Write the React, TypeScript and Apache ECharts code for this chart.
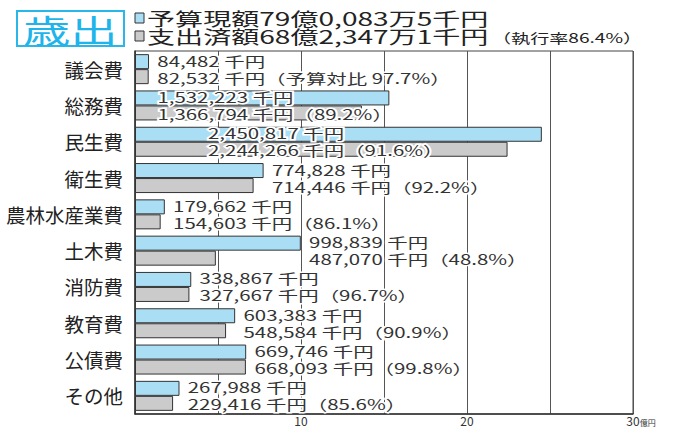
import React, { useEffect, useRef } from "react";
import * as echarts from "echarts";

const categories = ["議会費", "総務費", "民生費", "衛生費", "農林水産業費", "土木費", "消防費", "教育費", "公債費", "その他"];
// 千円
const budget = [84482, 1532223, 2450817, 774828, 179662, 998839, 338867, 603383, 669746, 267988];
const spent = [82532, 1366794, 2244266, 714446, 154603, 487070, 327667, 548584, 668093, 229416];
const rates = ["予算対比 97.7%", "89.2%", "91.6%", "92.2%", "86.1%", "48.8%", "96.7%", "90.9%", "99.8%", "85.6%"];
const xTicks = [0, 5, 10, 15, 20, 25, 30];

const FONT = '"Noto Sans CJK JP", "Noto Sans", sans-serif';
const toOku = (v: number) => v / 100000;
const fmt = (v: number) => v.toLocaleString("en-US");

export default function App() {
  const ref = useRef<HTMLDivElement>(null);
  useEffect(() => {
    if (!ref.current) return;
    const chart = echarts.init(ref.current, null, { renderer: "svg" });
    const budgetOku = budget.map(toOku);
    const spentOku = spent.map(toOku);
    const anchor = (v: number) => (v > 20 ? 4.4 : v > 14 ? 1.35 : v + 0.5);
    const labelData: number[][] = [];
    const labelTexts: string[] = [];
    const labelKinds: number[] = [];
    categories.forEach((_, i) => {
      const a = anchor(budgetOku[i]);
      labelData.push([a, i]);
      labelTexts.push(`${fmt(budget[i])} 千円`);
      labelKinds.push(0);
      labelData.push([a, i]);
      labelTexts.push(`${fmt(spent[i])} 千円（${rates[i]}）`);
      labelKinds.push(1);
    });

    chart.setOption({
      animation: false,
      textStyle: { fontFamily: FONT },
      grid: { left: 135, right: 50, top: 51, bottom: 13, show: true, borderColor: "#444", borderWidth: 1 },
      xAxis: {
        type: "value",
        min: xTicks[0],
        max: xTicks[xTicks.length - 1],
        interval: 5,
        axisLine: { show: true, lineStyle: { color: "#333", width: 1.5 } },
        axisTick: { show: false },
        splitLine: { show: true, lineStyle: { color: "#555", width: 1 } },
        axisLabel: {
          margin: 0,
          color: "#333",
          verticalAlign: "top",
          formatter: (v: number) => {
            if (v === 0 || v % 10 !== 0) return "";
            if (v === 30) return `{h|億円}{n|${v}}{u|億円}`;
            return `{n|${v}}`;
          },
          rich: {
            n: { fontSize: 12, lineHeight: 12, color: "#333", fontFamily: FONT },
            u: { fontSize: 8, lineHeight: 12, color: "#333", fontFamily: FONT, verticalAlign: "bottom" },
            h: { fontSize: 8, lineHeight: 12, color: "transparent", fontFamily: FONT },
          },
        },
      },
      yAxis: {
        type: "category",
        data: categories,
        inverse: true,
        axisTick: { show: false },
        axisLine: { show: true, lineStyle: { color: "#333", width: 1.5 } },
        axisLabel: { fontSize: 19.5, color: "#222", margin: 12, fontFamily: FONT },
      },
      graphic: [
        { type: "rect", shape: { x: 17, y: 11, width: 107, height: 35 }, style: { fill: "#fff", stroke: "#29b6e9", lineWidth: 2 } },
        {
          type: "text", x: 23, y: 29, scaleX: 1.48,
          style: { text: "歳出", fill: "#1fb4ea", font: `32px ${FONT}`, verticalAlign: "middle", textVerticalAlign: "middle" },
        },
        { type: "rect", shape: { x: 135, y: 13, width: 9, height: 10 }, style: { fill: "#a9def5", stroke: "#333", lineWidth: 1 } },
        { type: "rect", shape: { x: 135, y: 31, width: 9, height: 10 }, style: { fill: "#cbcbcb", stroke: "#333", lineWidth: 1 } },
        {
          type: "text", x: 147, y: 18.5, scaleX: 1.56,
          style: { text: "予算現額79億0,083万5千円", fill: "#222", font: `18px ${FONT}`, verticalAlign: "middle", textVerticalAlign: "middle" },
        },
        {
          type: "text", x: 147, y: 36.5, scaleX: 1.56,
          style: { text: "支出済額68億2,347万1千円", fill: "#222", font: `18px ${FONT}`, verticalAlign: "middle", textVerticalAlign: "middle" },
        },
        {
          type: "text", x: 492, y: 37.5, scaleX: 1.47,
          style: { text: "（執行率86.4%）", fill: "#222", font: `13px ${FONT}`, verticalAlign: "middle", textVerticalAlign: "middle" },
        },
      ],
      series: [
        {
          name: "予算現額",
          type: "bar",
          data: budgetOku,
          barWidth: 15,
          barGap: "0%",
          itemStyle: { color: "#a9def5", borderColor: "#333", borderWidth: 1 },
        },
        {
          name: "支出済額",
          type: "bar",
          data: spentOku,
          barWidth: 15,
          barGap: "0%",
          itemStyle: { color: "#cbcbcb", borderColor: "#333", borderWidth: 1 },
        },
        {
          type: "custom",
          data: labelData,
          z: 10,
          renderItem: (params: any, api: any) => {
            const pt = api.coord([api.value(0), api.value(1)]);
            const kind = labelKinds[params.dataIndex];
            return {
              type: "text",
              x: pt[0],
              y: pt[1] + (kind === 0 ? -8.5 : 8.5),
              scaleX: 1.46,
              style: {
                text: labelTexts[params.dataIndex],
                fill: "#333",
                stroke: "#fff",
                lineWidth: 3,
                font: `14px ${FONT}`,
                align: "left",
                verticalAlign: "middle",
                textAlign: "left",
                textVerticalAlign: "middle",
              },
            };
          },
        },
      ],
    });
    return () => chart.dispose();
  }, []);
  return <div ref={ref} style={{ position: "absolute", left: 0, top: 0, width: 683, height: 427 }} />;
}
